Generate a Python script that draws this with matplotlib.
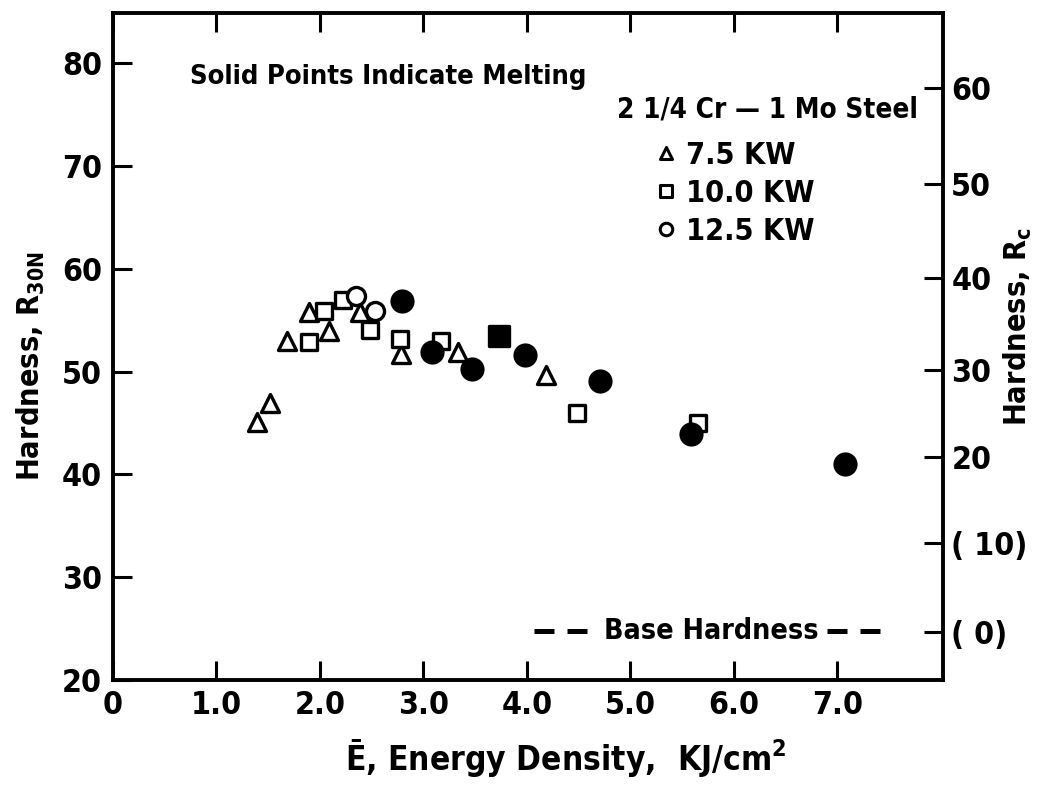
import matplotlib
matplotlib.use("Agg")
import matplotlib.pyplot as plt
from matplotlib import font_manager
from matplotlib.markers import MarkerStyle
from matplotlib.lines import Line2D

# look for a narrow bold face, like the typewriter-era labels
fonts = font_manager.fontManager.ttflist
names = {f.name for f in fonts}
font_name, stretch = 'Liberation Sans', 'normal'
if 'Liberation Sans Narrow' in names:
    font_name = 'Liberation Sans Narrow'
elif any(f.name == 'DejaVu Sans' and f.stretch == 'condensed' for f in fonts):
    font_name, stretch = 'DejaVu Sans', 'condensed'
elif 'Roboto Condensed' in names:
    font_name = 'Roboto Condensed'

plt.rcParams['font.family'] = [font_name, 'DejaVu Sans']
plt.rcParams['font.stretch'] = stretch
plt.rcParams['font.weight'] = 'bold'
plt.rcParams['axes.labelweight'] = 'bold'
plt.rcParams['mathtext.fontset'] = 'custom'
pat = font_name + ':weight=bold:stretch=' + stretch
plt.rcParams['mathtext.rm'] = pat
plt.rcParams['mathtext.bf'] = pat
plt.rcParams['mathtext.it'] = pat

# 7.5 KW (open triangles)
tri_x = [1.39, 1.52, 1.68, 1.89, 2.09, 2.39, 2.78, 3.33, 4.18]
tri_y = [45.1, 46.9, 53.0, 55.8, 53.9, 55.8, 51.7, 51.9, 49.7]
# 10.0 KW (open squares)
sq_x = [1.89, 2.04, 2.22, 2.48, 2.77, 3.17, 4.48, 5.65]
sq_y = [52.9, 55.9, 57.0, 54.0, 53.2, 53.0, 46.0, 45.0]
# 10.0 KW melted (solid square)
sq_melt_x = [3.73]
sq_melt_y = [53.5]
# 12.5 KW (open circles)
circ_x = [2.35, 2.53]
circ_y = [57.3, 55.9]
# 12.5 KW melted (solid circles)
circ_melt_x = [2.79, 3.08, 3.47, 3.98, 4.71, 5.59, 7.07]
circ_melt_y = [56.9, 51.9, 50.2, 51.6, 49.1, 43.9, 41.0]

x_ticks = [0, 1, 2, 3, 4, 5, 6, 7]
x_labels = ['0', '1.0', '2.0', '3.0', '4.0', '5.0', '6.0', '7.0']
y_ticks = [20, 30, 40, 50, 60, 70, 80]
# Rc scale, placed at the equivalent R30N value
rc_pos = [77.6, 68.25, 59.1, 50.15, 41.7, 33.3, 24.7]
rc_labels = ['60', '50', '40', '30', '20', '( 10)', '( 0)']

base_y = 24.8
base_left = [4.07, 4.60]
base_right = [6.90, 7.47]

fig = plt.figure(figsize=(10.51, 7.98), dpi=100)
ax = fig.add_axes([0.1075, 0.148, 0.7897, 0.836])

def mk(m):
    return MarkerStyle(m, joinstyle='round')

ms = 13
mew = 2.4
ax.plot(tri_x, tri_y, ls='none', marker=mk('^'), ms=ms, mew=mew, mfc='white', mec='black')
ax.plot(sq_x, sq_y, ls='none', marker=mk('s'), ms=ms - 1, mew=mew, mfc='white', mec='black')
ax.plot(circ_x, circ_y, ls='none', marker='o', ms=ms, mew=mew, mfc='white', mec='black')
ax.plot(sq_melt_x, sq_melt_y, ls='none', marker=mk('s'), ms=ms + 1, mew=mew, mfc='black', mec='black')
ax.plot(circ_melt_x, circ_melt_y, ls='none', marker='o', ms=ms + 2, mew=mew, mfc='black', mec='black')

# base hardness line
ax.plot(base_left, [base_y, base_y], color='black', lw=3.6, dashes=(4, 2.6))
ax.plot(base_right, [base_y, base_y], color='black', lw=3.6, dashes=(4, 2.6))
ax.text(5.78, base_y, 'Base Hardness', fontsize=20.5, ha='center', va='center')

ax.set_xlim(0, 8.02)
ax.set_ylim(20, 84.9)
ax.set_xticks(x_ticks)
ax.set_xticklabels(x_labels)
ax.set_yticks(y_ticks)
for s in ax.spines.values():
    s.set_linewidth(2.8)
ax.tick_params(axis='both', direction='in', length=14, width=2.2, labelsize=23)
ax.tick_params(axis='x', top=True, pad=7)
ax.tick_params(axis='y', pad=8)

ax2 = ax.twinx()
ax2.set_ylim(ax.get_ylim())
ax2.set_yticks(rc_pos)
ax2.set_yticklabels(rc_labels)
ax2.tick_params(axis='y', direction='in', length=14, width=2.2, labelsize=23, pad=6)
ax2.set_ylabel('Hardness, R$_\\mathrm{c}$', fontsize=22)
ax2.yaxis.set_label_coords(1.071, 0.53)

ax.set_ylabel('Hardness, R$_\\mathrm{30N}$', fontsize=22)
ax.yaxis.set_label_coords(-0.08, 0.47)
ax.set_xlabel('Ē, Energy Density,  KJ/cm$^\\mathrm{2}$', fontsize=24)
ax.xaxis.set_label_coords(0.545, -0.085)

ax.text(0.093, 0.903, 'Solid Points Indicate Melting', transform=ax.transAxes,
        fontsize=19.6, ha='left', va='center')
ax.text(0.607, 0.855, '2 1/4 Cr \u2014 1 Mo Steel', transform=ax.transAxes,
        fontsize=20, ha='left', va='center')

handles = [
    Line2D([], [], ls='none', marker=mk('^'), ms=9, mew=2.2, mfc='white', mec='black'),
    Line2D([], [], ls='none', marker=mk('s'), ms=8, mew=2.2, mfc='white', mec='black'),
    Line2D([], [], ls='none', marker='o', ms=9, mew=2.2, mfc='white', mec='black'),
]
ax.legend(handles, ['7.5 KW', '10.0 KW', '12.5 KW'], loc='upper left',
          bbox_to_anchor=(0.652, 0.808), frameon=False, fontsize=22,
          handlelength=0.8, handletextpad=0.25, labelspacing=0.3,
          borderpad=0, borderaxespad=0)

fig.savefig('out.png', dpi=100)
